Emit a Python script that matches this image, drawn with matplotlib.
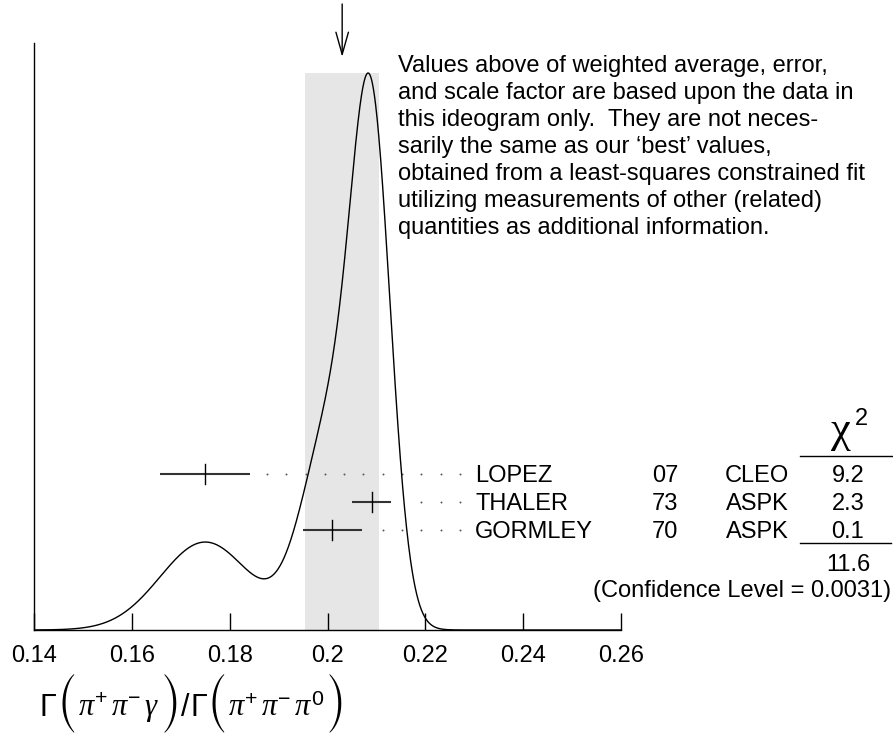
import numpy as np
import matplotlib
matplotlib.use('Agg')
import matplotlib.pyplot as plt
from matplotlib.transforms import blended_transform_factory

plt.rcParams['font.family'] = ['Liberation Sans', 'DejaVu Sans']
plt.rcParams['mathtext.fontset'] = 'custom'
plt.rcParams['mathtext.rm'] = 'Liberation Sans'
plt.rcParams['mathtext.sf'] = 'Liberation Sans'
plt.rcParams['mathtext.it'] = 'Liberation Serif:italic'
plt.rcParams['mathtext.bf'] = 'Liberation Sans:bold'

# ---------------- data ----------------
names = ['LOPEZ', 'THALER', 'GORMLEY']
years = ['07', '73', '70']
expts = ['CLEO', 'ASPK', 'ASPK']
values = [0.175, 0.209, 0.201]
errors = [0.0092, 0.004, 0.006]
chi2 = ['9.2', '2.3', '0.1']
chi2_total = '11.6'
conf_level = '0.0031'
avg = 0.203
avg_err = 0.0076
xticks = [0.14, 0.16, 0.18, 0.20, 0.22, 0.24, 0.26]
xticklabels = ['0.14', '0.16', '0.18', '0.2', '0.22', '0.24', '0.26']
note_lines = [
    'Values above of weighted average, error,',
    'and scale factor are based upon the data in',
    'this ideogram only.  They are not neces-',
    'sarily the same as our \u2018best\u2019 values,',
    'obtained from a least-squares constrained fit',
    'utilizing measurements of other (related)',
    'quantities as additional information.',
]
# x label pieces: Γ(π+π−γ)/Γ(π+π−π0)
label_pieces = [
    ('\u0393', 'txt'), ('(', 'par'), (r'$\pi^{+}\,\pi^{-}\,\gamma$', 'txt'), (')', 'par'),
    ('/', 'txt'),
    ('\u0393', 'txt'), ('(', 'par'), (r'$\pi^{+}\,\pi^{-}\,\pi^{0}$', 'txt'), (')', 'par'),
]

# ---------------- layout ----------------
W, H = 893, 738
fig = plt.figure(figsize=(W / 100, H / 100), dpi=100)


def fx(px):
    return px / W


def fy(py):
    return 1 - py / H


AX_L, AX_R, AX_B, AX_T = 34, 621, 630, 43
ax = fig.add_axes([fx(AX_L), fy(AX_B), fx(AX_R) - fx(AX_L), fy(AX_T) - fy(AX_B)])


def ay(py):
    return (AX_B - py) / (AX_B - AX_T)


# ideogram
xs = np.linspace(0.14, 0.26, 1501)
v = np.array(values)
e = np.array(errors)
ideo = np.sum((1 / e ** 2)[:, None] *
              np.exp(-0.5 * ((xs[None, :] - v[:, None]) / e[:, None]) ** 2), axis=0)
peak = ideo.max()
ax.set_xlim(0.14, 0.26)
ax.set_ylim(0, peak * (AX_B - AX_T) / (AX_B - 73))

ax.fill_between([avg - avg_err, avg + avg_err], 0, peak, color='#e6e6e6', lw=0, zorder=0)
ax.plot(xs, ideo, color='black', lw=1.0, zorder=3)

for s in ['top', 'right']:
    ax.spines[s].set_visible(False)
for s in ['left', 'bottom']:
    ax.spines[s].set_linewidth(1.0)
ax.set_yticks([])
ax.set_xticks(xticks)
ax.set_xticklabels(xticklabels)
ax.tick_params(axis='x', direction='in', length=12.5, width=1.0, labelsize=17, pad=11)

trans = blended_transform_factory(ax.transData, ax.transAxes)

# arrow at weighted average
ax.annotate('', xy=(avg, ay(57)), xycoords=trans, xytext=(avg, ay(4)), textcoords=trans,
            arrowprops=dict(arrowstyle='->,head_length=1.6,head_width=0.45', lw=1.0,
                            color='black', shrinkA=0, shrinkB=0),
            annotation_clip=False)

# measurement rows
row_py = [474, 502, 530]
dot_start = 0.14 + (460 - AX_L) / ((AX_R - AX_L) / 0.12)
dot_step = 19.3 / ((AX_R - AX_L) / 0.12)
for i, py in enumerate(row_py):
    y = ay(py)
    ax.plot([values[i] - errors[i], values[i] + errors[i]], [y, y], transform=trans,
            color='#333333', lw=1.5, zorder=4, solid_capstyle='butt')
    ax.plot([values[i], values[i]], [ay(py - 10), ay(py + 10)], transform=trans,
            color='black', lw=1.0, zorder=4)
    dx = []
    d = dot_start
    while d > values[i] + errors[i] + 0.0025:
        dx.append(d)
        d -= dot_step
    ax.plot(dx, [y] * len(dx), transform=trans, ls='none', marker='o', ms=1.4,
            mec='none', mfc='#555555', zorder=2, clip_on=False)
    base = fy(py + 8.5)
    fig.text(fx(475), base, names[i], fontsize=17, ha='left', va='baseline')
    fig.text(fx(665), base, years[i], fontsize=17, ha='center', va='baseline')
    fig.text(fx(757), base, expts[i], fontsize=17, ha='center', va='baseline')
    fig.text(fx(848), base, chi2[i], fontsize=17, ha='center', va='baseline')

# chi2 header and totals
fig.text(fx(841), fy(442), '\u03c7', fontsize=32, family='Liberation Serif',
         ha='center', va='baseline')
fig.text(fx(861), fy(425), '2', fontsize=17, ha='center', va='baseline')
fig.add_artist(plt.Line2D([fx(800), fx(893)], [fy(456), fy(456)], color='black', lw=1.0))
fig.add_artist(plt.Line2D([fx(800), fx(891)], [fy(543), fy(543)], color='black', lw=1.0))
fig.text(fx(848), fy(571), chi2_total, fontsize=17, ha='center', va='baseline')
fig.text(fx(891), fy(597), '(Confidence Level = ' + conf_level + ')', fontsize=17,
         ha='right', va='baseline')

# note text
for k, line in enumerate(note_lines):
    fig.text(fx(398), fy(72 + 27 * k), line, fontsize=17, ha='left', va='baseline')

# x label, laid out piece by piece so the parentheses can be tall
renderer = fig.canvas.get_renderer()
LS = 22
TXT_BASE, PAR_BASE = 716, 724
xcur = 40.0
for s, kind in label_pieces:
    if kind == 'par':
        t = fig.text(fx(xcur), fy(PAR_BASE), s, family='STIXSizeTwoSym', size=LS + 1,
                     ha='left', va='baseline')
    else:
        t = fig.text(fx(xcur), fy(TXT_BASE), s, size=LS, ha='left', va='baseline')
    xcur += t.get_window_extent(renderer).width + 1

fig.savefig('out.png', dpi=100)
